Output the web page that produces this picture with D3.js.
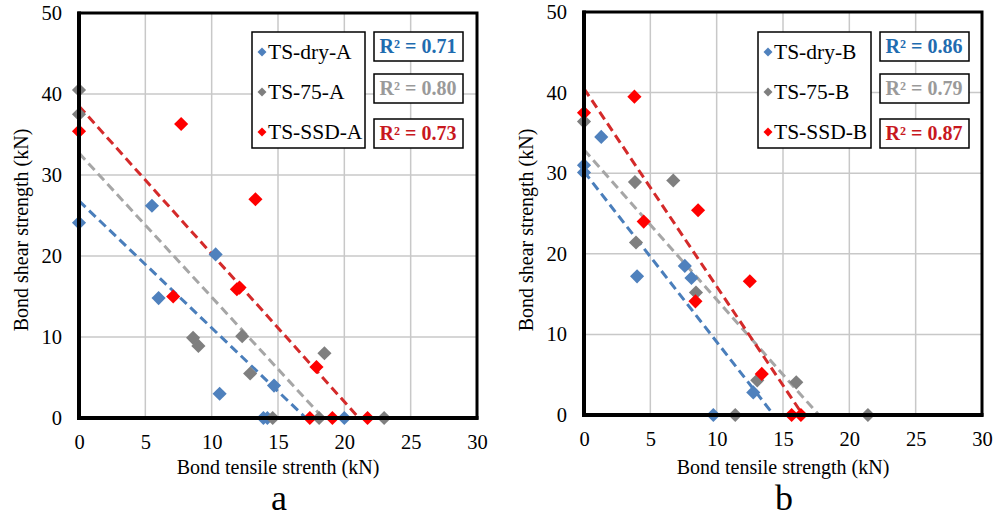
<!DOCTYPE html>
<html>
<head>
<meta charset="utf-8">
<script src="https://cdn.jsdelivr.net/npm/d3@7"></script>
<style>
  body { margin: 0; background: #fff; }
  svg text { font-family: "Liberation Serif", "DejaVu Serif", serif !important; }
</style>
</head>
<body>
<div id="chart"></div>
<script>
// ---- data ----
var xTicks = [0, 5, 10, 15, 20, 25, 30];
var yTicks = [0, 10, 20, 30, 40, 50];

// panel a
var dryA_x = [0, 5.5, 6.0, 10.3, 10.6, 14.7, 13.9, 14.2, 20.0];
var dryA_y = [24.1, 26.2, 14.8, 20.2, 3.0, 4.0, 0, 0, 0];
var w75A_x = [0, 0, 8.6, 9.0, 12.3, 12.9, 18.5, 14.6, 18.1, 23.0];
var w75A_y = [40.5, 37.5, 9.9, 8.9, 10.1, 5.5, 8.0, 0, 0, 0];
var ssdA_x = [0, 7.7, 13.3, 7.1, 11.9, 12.1, 17.9, 17.4, 19.1, 21.75];
var ssdA_y = [35.4, 36.3, 27.0, 15.0, 15.9, 16.1, 6.3, 0, 0, 0];
// trendlines: [y at x=0, x where y=0]
var trendA = [[26.8, 17.1], [32.7, 18.4], [38.5, 21.1]];
var namesA = ["TS-dry-A", "TS-75-A", "TS-SSD-A"];
var r2A = ["0.71", "0.80", "0.73"];

// panel b
var dryB_x = [0, 0, 1.3, 4.0, 7.6, 8.1, 9.75, 12.76];
var dryB_y = [31.0, 30.1, 34.5, 17.2, 18.5, 17.0, 0, 2.8];
var w75B_x = [0, 3.84, 6.73, 3.92, 8.44, 11.4, 13.06, 16.0, 21.4];
var w75B_y = [36.4, 28.9, 29.1, 21.4, 15.2, 0, 4.3, 4.05, 0];
var ssdB_x = [0, 3.8, 4.5, 8.6, 8.4, 12.5, 13.4, 15.65, 16.35];
var ssdB_y = [37.5, 39.5, 24.0, 25.4, 14.1, 16.6, 5.1, 0, 0];
var trendB = [[30.2, 14.3], [32.9, 17.7], [40.5, 16.5]];
var namesB = ["TS-dry-B", "TS-75-B", "TS-SSD-B"];
var r2B = ["0.86", "0.79", "0.87"];

var markerColors = ["#4f81bd", "#7f7f7f", "#ff0000"];
var trendColors = ["#4a7ebb", "#a6a6a6", "#d42a2a"];
var r2Colors = ["#1f6cb0", "#9a9a9a", "#c8181e"];
var serif = "'Liberation Serif', 'DejaVu Serif', serif";

var svg = d3.select("#chart").append("svg")
  .attr("width", 997).attr("height", 518)
  .style("font-family", serif);

function drawPanel(p) {
  var x = d3.scaleLinear().domain([0, 30]).range([p.left, p.right]);
  var y = d3.scaleLinear().domain([0, 50]).range([p.bottom, p.top]);
  var g = svg.append("g");

  // grid
  g.append("g").selectAll("line").data(xTicks.slice(1, -1)).enter().append("line")
    .attr("x1", function(d) { return x(d); }).attr("x2", function(d) { return x(d); })
    .attr("y1", p.top).attr("y2", p.bottom)
    .attr("stroke", "#c8c8c8").attr("stroke-width", 1.5);
  g.append("g").selectAll("line").data(yTicks.slice(1, -1)).enter().append("line")
    .attr("y1", function(d) { return y(d); }).attr("y2", function(d) { return y(d); })
    .attr("x1", p.left).attr("x2", p.right)
    .attr("stroke", "#c8c8c8").attr("stroke-width", 1.5);

  // legend + R2 boxes
  var lg = g.append("g");
  lg.append("rect").attr("x", p.legX).attr("y", p.legY).attr("width", 113).attr("height", 116)
    .attr("fill", "#fff").attr("stroke", "#000").attr("stroke-width", 1.5);
  p.names.forEach(function(n, i) {
    var cy = p.legY + 20 + i * 40;
    lg.append("path")
      .attr("d", d3.symbol(d3.symbolSquare, 40)())
      .attr("transform", "translate(" + (p.legX + 10) + "," + cy + ") rotate(45)")
      .attr("fill", markerColors[i]);
    lg.append("text").attr("x", p.legX + 16).attr("y", cy + 7)
      .style("font-family", serif).style("font-size", "21.5px").text(n);
    var by = p.legY + [0, 42, 87][i];
    lg.append("rect").attr("x", p.legX + 122).attr("y", by).attr("width", 89).attr("height", 29)
      .attr("fill", "#fff").attr("stroke", "#000").attr("stroke-width", 1.5);
    lg.append("text").attr("x", p.legX + 166).attr("y", by + 21)
      .attr("text-anchor", "middle").style("font-family", serif).style("font-size", "20px").style("font-weight", "bold")
      .attr("fill", r2Colors[i]).text("R\u00b2 = " + p.r2[i]);
  });

  // trendlines
  p.trend.forEach(function(t, i) {
    g.append("line")
      .attr("x1", x(0)).attr("y1", y(t[0]))
      .attr("x2", x(t[1])).attr("y2", y(0))
      .attr("stroke", trendColors[i]).attr("stroke-width", 3)
      .attr("stroke-dasharray", "9,5");
  });

  // points
  p.series.forEach(function(s, i) {
    g.append("g").selectAll("path").data(s[0]).enter().append("path")
      .attr("d", d3.symbol(d3.symbolSquare, 100)())
      .attr("transform", function(d, j) {
        return "translate(" + x(d) + "," + y(s[1][j]) + ") rotate(45)";
      })
      .attr("fill", markerColors[i]);
  });

  // frame
  g.append("rect").attr("x", p.left).attr("y", p.top)
    .attr("width", p.right - p.left).attr("height", p.bottom - p.top)
    .attr("fill", "none").attr("stroke", "#000").attr("stroke-width", 3);
  g.append("line").attr("x1", p.left).attr("x2", p.left).attr("y1", p.top - 1.5).attr("y2", p.bottom + 2)
    .attr("stroke", "#000").attr("stroke-width", 4);
  g.append("line").attr("x1", p.left - 2).attr("x2", p.right + 1.5).attr("y1", p.bottom).attr("y2", p.bottom)
    .attr("stroke", "#000").attr("stroke-width", 4);

  // axes (labels only)
  var xa = g.append("g").attr("transform", "translate(0," + (p.bottom + 10) + ")")
    .call(d3.axisBottom(x).tickValues(xTicks).tickSize(0).tickPadding(6));
  var ya = g.append("g").attr("transform", "translate(" + (p.left - 13) + ",0)")
    .call(d3.axisLeft(y).tickValues(yTicks).tickSize(0).tickPadding(4));
  [xa, ya].forEach(function(a) {
    a.attr("font-family", null).attr("font-size", null);
    a.select(".domain").remove();
    a.selectAll("text").style("font-family", serif).style("font-size", "20.5px").attr("fill", "#000");
  });

  // titles
  g.append("text").attr("x", (p.left + p.right) / 2).attr("y", 473.5)
    .attr("text-anchor", "middle").style("font-family", serif).style("font-size", "20px").text(p.xTitle);
  g.append("text").attr("transform", "translate(" + (p.left - 51) + ",230) rotate(-90)")
    .attr("text-anchor", "middle").style("font-family", serif).style("font-size", "20px").text("Bond shear strength (kN)");
  g.append("text").attr("x", (p.left + p.right) / 2 + 1).attr("y", 510)
    .attr("text-anchor", "middle").style("font-family", serif).style("font-size", "36px").text(p.label);
}

drawPanel({
  left: 79, right: 477, top: 13, bottom: 418,
  legX: 252, legY: 32,
  names: namesA, r2: r2A, trend: trendA,
  series: [[dryA_x, dryA_y], [w75A_x, w75A_y], [ssdA_x, ssdA_y]],
  xTitle: "Bond tensile strenth (kN)", label: "a"
});
drawPanel({
  left: 584, right: 982, top: 12, bottom: 415,
  legX: 758, legY: 32,
  names: namesB, r2: r2B, trend: trendB,
  series: [[dryB_x, dryB_y], [w75B_x, w75B_y], [ssdB_x, ssdB_y]],
  xTitle: "Bond tensile strength (kN)", label: "b"
});
</script>
</body>
</html>
